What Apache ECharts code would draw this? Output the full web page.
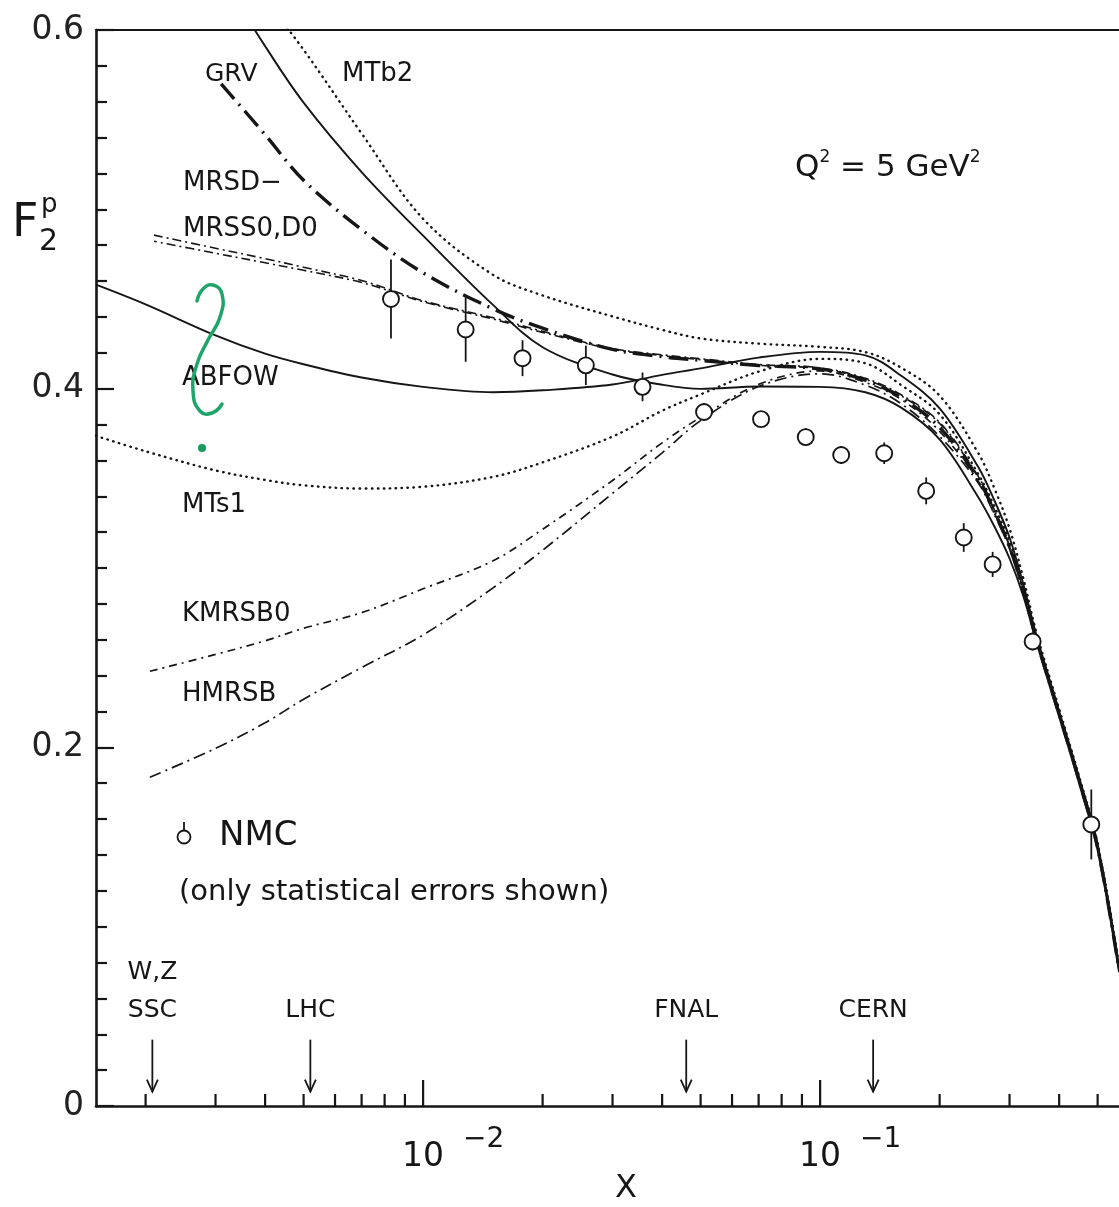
<!DOCTYPE html>
<html>
<head>
<meta charset="utf-8">
<script src="https://cdn.jsdelivr.net/npm/echarts@6/dist/echarts.min.js"></script>
<style>
  html, body { margin: 0; padding: 0; background: #ffffff; }
  #chart { width: 1119px; height: 1207px; }
</style>
</head>
<body>
<div id="chart"></div>
<script>
// Proton structure function F2 versus x at Q^2 = 5 GeV^2:
// parton-distribution predictions compared with NMC measurements.

// ---- NMC measurements (statistical errors only) ----
const nmcX   = [0.0083, 0.0128, 0.0178, 0.0257, 0.0357, 0.051, 0.071, 0.092, 0.113, 0.145, 0.185, 0.23, 0.272, 0.343, 0.482];
const nmcF2  = [0.450, 0.433, 0.417, 0.413, 0.401, 0.387, 0.383, 0.373, 0.363, 0.364, 0.343, 0.317, 0.302, 0.259, 0.157];
const nmcErr = [0.022, 0.018, 0.010, 0.011, 0.008, 0.005, 0.004, 0.005, 0.005, 0.006, 0.0075, 0.008, 0.007, 0.005, 0.0195];

// ---- model curves, [x, F2] ----
const grv = [[0.003,0.635],[0.004,0.591],[0.005,0.5595],[0.007,0.5208],[0.01,0.4853],[0.015,0.4467],[0.02,0.4231],
  [0.03,0.4079],[0.04,0.4022],[0.05,0.3999],[0.07,0.4012],[0.1,0.401],[0.13,0.398],[0.16,0.3894],[0.2,0.3717],
  [0.25,0.3396],[0.275,0.323],[0.3,0.3053],[0.325,0.2843],[0.35,0.2592],[0.4,0.2169],[0.45,0.1792],[0.5,0.1425],[0.566,0.0746]];
const mtb2 = [[0.004,0.617],[0.005,0.589],[0.007,0.5423],[0.01,0.4947],[0.015,0.4635],[0.02,0.452],[0.03,0.4403],
  [0.04,0.4328],[0.05,0.428],[0.07,0.4251],[0.1,0.4233],[0.13,0.4204],[0.16,0.4117],[0.2,0.3961],[0.25,0.3642],
  [0.275,0.3442],[0.3,0.322],[0.325,0.2942],[0.35,0.2647],[0.4,0.2214],[0.45,0.1831],[0.5,0.1464],[0.566,0.0785]];
const mrsdMinus = [[0.0031,0.570],[0.004,0.5416],[0.005,0.5162],[0.007,0.4887],[0.01,0.4646],[0.015,0.4445],
  [0.02,0.4337],[0.03,0.4219],[0.04,0.4178],[0.05,0.4158],[0.07,0.4129],[0.1,0.411],[0.13,0.4047],[0.16,0.395],
  [0.2,0.3784],[0.25,0.3497],[0.275,0.3312],[0.3,0.3118],[0.325,0.2874],[0.35,0.2606],[0.4,0.2185],[0.45,0.1808],[0.5,0.1441],[0.566,0.0762]];
const mrss0 = [[0.0021,0.4856],[0.003,0.4783],[0.004,0.4725],[0.005,0.4677],[0.007,0.4603],[0.01,0.449],
  [0.015,0.4395],[0.02,0.432],[0.03,0.4224],[0.04,0.4189],[0.05,0.4167],[0.07,0.4135],[0.1,0.4116],[0.13,0.4058],
  [0.16,0.3966],[0.2,0.3812],[0.25,0.3512],[0.275,0.3322],[0.3,0.3124],[0.325,0.2878],[0.35,0.2609],[0.4,0.2187],[0.45,0.181],[0.5,0.1443],[0.566,0.0764]];
const mrsd0 = [[0.0021,0.4822],[0.003,0.4755],[0.004,0.4702],[0.005,0.466],[0.007,0.4592],[0.01,0.4485],
  [0.015,0.4388],[0.02,0.4314],[0.03,0.422],[0.04,0.4184],[0.05,0.4162],[0.07,0.413],[0.1,0.4112],[0.13,0.4052],
  [0.16,0.396],[0.2,0.3806],[0.25,0.3506],[0.275,0.3318],[0.3,0.3121],[0.325,0.2876],[0.35,0.2608],[0.4,0.2186],[0.45,0.1809],[0.5,0.1442],[0.566,0.0763]];
const abfow = [[0.0015,0.458],[0.002,0.447],[0.003,0.4297],[0.004,0.4195],[0.005,0.4136],[0.007,0.4062],[0.01,0.401],
  [0.015,0.398],[0.02,0.3991],[0.03,0.4023],[0.04,0.4077],[0.05,0.4113],[0.07,0.4173],[0.1,0.4205],[0.13,0.4186],
  [0.16,0.4072],[0.2,0.389],[0.25,0.3564],[0.275,0.3375],[0.3,0.317],[0.325,0.2909],[0.35,0.2631],[0.4,0.2203],[0.45,0.1826],[0.5,0.1459],[0.566,0.078]];
const mts1 = [[0.0015,0.3737],[0.002,0.3651],[0.003,0.3544],[0.004,0.3491],[0.005,0.3461],[0.007,0.3443],[0.01,0.3453],
  [0.015,0.3508],[0.02,0.3589],[0.03,0.3733],[0.04,0.3877],[0.05,0.3968],[0.07,0.4095],[0.1,0.4166],[0.13,0.4142],
  [0.16,0.402],[0.2,0.3857],[0.25,0.3525],[0.275,0.3342],[0.3,0.3148],[0.325,0.2892],[0.35,0.262],[0.4,0.2195],[0.45,0.1818],[0.5,0.1451],[0.566,0.0772]];
const kmrsb0 = [[0.00205,0.2424],[0.003,0.2518],[0.004,0.2594],[0.005,0.2664],[0.007,0.2751],[0.01,0.2884],
  [0.015,0.304],[0.02,0.3216],[0.03,0.3488],[0.04,0.3698],[0.05,0.384],[0.07,0.4024],[0.1,0.4099],[0.13,0.4035],
  [0.16,0.394],[0.2,0.3762],[0.25,0.3485],[0.275,0.3304],[0.3,0.3112],[0.325,0.287],[0.35,0.2603],[0.4,0.2183],[0.45,0.1806],[0.5,0.1439],[0.566,0.076]];
const hmrsb = [[0.00205,0.1833],[0.003,0.1994],[0.004,0.2137],[0.005,0.2268],[0.007,0.2445],[0.01,0.2627],
  [0.015,0.2889],[0.02,0.3099],[0.03,0.3416],[0.04,0.3642],[0.05,0.3822],[0.07,0.4012],[0.1,0.4083],[0.13,0.402],
  [0.16,0.3916],[0.2,0.3734],[0.25,0.3475],[0.275,0.3296],[0.3,0.3106],[0.325,0.2866],[0.35,0.26],[0.4,0.2181],[0.45,0.1804],[0.5,0.1437],[0.566,0.0758]];

// ---- collider / fixed-target reach markers ----
const facilityNames = [['W,Z', 'SSC'], ['LHC'], ['FNAL'], ['CERN']];
const facilityX = [0.00208, 0.0052, 0.046, 0.136];

// ---- axes ----
const xMin = 0.0015, xMax = 0.566;
const xMinorTicks = [0.002,0.003,0.004,0.005,0.006,0.007,0.008,0.009,
                     0.02,0.03,0.04,0.05,0.06,0.07,0.08,0.09,
                     0.2,0.3,0.4,0.5];
const xMajorTicks = [0.01, 0.1];
const xMajorExponents = ['\u22122', '\u22121'];
const yTickLabels = { 0: '0', 0.2: '0.2', 0.4: '0.4', 0.6: '0.6' };

const INK = '#161616';
const FONT = 'DejaVu Sans';

const chart = echarts.init(document.getElementById('chart'), null, { renderer: 'canvas' });

function curve(name, data, lineStyle) {
  return {
    name, type: 'line', data, showSymbol: false, symbol: 'none',
    smooth: 0.35, clip: true, z: 3,
    lineStyle: Object.assign({ color: INK, width: 1.9 }, lineStyle)
  };
}

const series = [
  curve('GRV', grv, { type: 'solid' }),
  curve('ABFOW', abfow, { type: 'solid' }),
  curve('MTb2', mtb2, { type: [0.5, 5.5], cap: 'round', width: 2.4 }),
  curve('MTs1', mts1, { type: [0.5, 5.5], cap: 'round', width: 2.4 }),
  curve('MRSD-', mrsdMinus, { type: [20, 7, 2, 7], width: 3.4 }),
  curve('MRSS0', mrss0, { type: [9, 4, 2, 4], width: 1.6 }),
  curve('MRSD0', mrsd0, { type: [9, 4, 2, 4], width: 1.6, dashOffset: 6 }),
  curve('KMRSB0', kmrsb0, { type: [8, 5, 2, 5], width: 1.7 }),
  curve('HMRSB', hmrsb, { type: [12, 5, 2, 5], width: 1.7 }),
  // NMC error bars
  {
    name: 'NMC errors', type: 'custom', z: 4,
    data: nmcX.map((x, i) => [x, nmcF2[i] - nmcErr[i], nmcF2[i] + nmcErr[i]]),
    encode: { x: 0, y: [1, 2] },
    renderItem(params, api) {
      const lo = api.coord([api.value(0), api.value(1)]);
      const hi = api.coord([api.value(0), api.value(2)]);
      return { type: 'line', shape: { x1: lo[0], y1: lo[1], x2: hi[0], y2: hi[1] },
               style: { stroke: INK, lineWidth: 1.8 } };
    }
  },
  // NMC points
  {
    name: 'NMC', type: 'scatter', z: 5,
    data: nmcX.map((x, i) => [x, nmcF2[i]]),
    symbol: 'circle', symbolSize: 16,
    itemStyle: { color: '#ffffff', borderColor: INK, borderWidth: 1.9, opacity: 1 }
  },
  // minor ticks on the x axis
  {
    name: 'x minor ticks', type: 'custom', z: 6, silent: true,
    data: xMinorTicks.map(v => [v, 0]),
    encode: { x: 0, y: 1 },
    renderItem(params, api) {
      const p = api.coord([api.value(0), 0]);
      return { type: 'line', shape: { x1: p[0], y1: p[1], x2: p[0], y2: p[1] - 12 },
               style: { stroke: INK, lineWidth: 2.2 } };
    }
  },
  // decade ticks with power-of-ten labels
  {
    name: 'x major ticks', type: 'custom', z: 6, silent: true,
    data: xMajorTicks.map(v => [v, 0]),
    encode: { x: 0, y: 1 },
    renderItem(params, api) {
      const p = api.coord([api.value(0), 0]);
      return {
        type: 'group',
        children: [
          { type: 'line', shape: { x1: p[0], y1: p[1], x2: p[0], y2: p[1] - 26 },
            style: { stroke: INK, lineWidth: 2.2 } },
          { type: 'text', x: p[0], y: p[1] + 51,
            style: { text: '10', fill: INK, font: '33px "' + FONT + '"', align: 'center', verticalAlign: 'middle' } },
          { type: 'text', x: p[0] + 40, y: p[1] + 34,
            style: { text: xMajorExponents[params.dataIndex], fill: INK, font: '28px "' + FONT + '"', align: 'left', verticalAlign: 'middle' } }
        ]
      };
    }
  },
  // facility arrows
  {
    name: 'facilities', type: 'custom', z: 6, silent: true,
    data: facilityX.map(x => [x, 0.037, 0.008]),
    encode: { x: 0, y: [1, 2] },
    renderItem(params, api) {
      const x = api.value(0);
      const top = api.coord([x, api.value(1)]);
      const tip = api.coord([x, api.value(2)]);
      const labelAt = api.coord([x, 0.053]);
      const names = facilityNames[params.dataIndex];
      const children = [
        { type: 'line', shape: { x1: top[0], y1: top[1], x2: tip[0], y2: tip[1] },
          style: { stroke: INK, lineWidth: 1.8 } },
        { type: 'polyline', shape: { points: [[tip[0] - 5.5, tip[1] - 12], [tip[0], tip[1]], [tip[0] + 5.5, tip[1] - 12]] },
          style: { stroke: INK, lineWidth: 1.8, fill: null } }
      ];
      names.forEach((nm, j) => {
        children.push({ type: 'text', x: labelAt[0], y: labelAt[1] - (names.length - 1 - j) * 38,
          style: { text: nm, fill: INK, font: '25px "' + FONT + '"', align: 'center', verticalAlign: 'middle' } });
      });
      return { type: 'group', children };
    }
  }
];

function label(text, x, y, size) {
  return { type: 'text', x, y, z: 10,
    style: { text, fill: INK, font: size + 'px "' + FONT + '"', align: 'left', verticalAlign: 'middle' } };
}

const graphic = [
  // y-axis title F2^p
  label('F', 12, 224, 46),
  label('p', 41, 205, 26),
  label('2', 39, 242, 30),
  // curve labels
  label('GRV', 205, 74, 25),
  label('MTb2', 342, 74, 26),
  label('MRSD\u2212', 183, 183, 26),
  label('MRSS0,D0', 183, 229, 26),
  label('ABFOW', 182, 378, 26),
  label('MTs1', 182, 505, 26),
  label('KMRSB0', 182, 614, 26),
  label('HMRSB', 182, 694, 26),
  // NMC key
  { type: 'circle', shape: { cx: 184, cy: 837, r: 6.5 }, z: 10, style: { fill: '#fff', stroke: INK, lineWidth: 1.8 } },
  { type: 'line', shape: { x1: 184, y1: 822, x2: 184, y2: 830.5 }, z: 10, style: { stroke: INK, lineWidth: 1.8 } },
  label('NMC', 219, 836, 34),
  label('(only statistical errors shown)', 179, 892, 29),
  // kinematic condition
  { type: 'text', x: 795, y: 168, z: 10,
    style: { text: 'Q{s|2} = 5 GeV{s|2}', fill: INK, font: '31px "' + FONT + '"', align: 'left', verticalAlign: 'middle',
      rich: { s: { fontSize: 17, fontFamily: FONT, fill: INK, padding: [0, 0, 20, 0] } } } },
  // x-axis title
  { type: 'text', x: 626, y: 1189, z: 10,
    style: { text: 'X', fill: INK, font: '32px "' + FONT + '"', align: 'center', verticalAlign: 'middle' } },
  // green handwritten query mark
  { type: 'polyline', z: 12, shape: { smooth: 0.5, points: [[197,301],[203,289],[213,285],[222,294],[220,317],[208,340],[197,364],[193,391],[200,411],[212,413],[222,404]] },
    style: { stroke: '#1fa56a', lineWidth: 3.5, fill: null, lineCap: 'round' } },
  { type: 'circle', z: 12, shape: { cx: 202, cy: 448, r: 4 }, style: { fill: '#1b9a5e' } }
];

chart.setOption({
  animation: false,
  backgroundColor: '#ffffff',
  textStyle: { fontFamily: FONT },
  grid: { left: 96, right: 0, top: 30, bottom: 101, containLabel: false },
  xAxis: [
    { type: 'log', logBase: 10, min: xMin, max: xMax, position: 'bottom',
      axisLine: { show: true, onZero: false, lineStyle: { color: INK, width: 2.6 } },
      axisTick: { show: false }, minorTick: { show: false },
      axisLabel: { show: false }, splitLine: { show: false } },
    { type: 'log', logBase: 10, min: xMin, max: xMax, position: 'top',
      axisLine: { show: true, onZero: false, lineStyle: { color: INK, width: 2.2 } },
      axisTick: { show: false }, axisLabel: { show: false }, splitLine: { show: false } }
  ],
  yAxis: {
    type: 'value', min: 0, max: 0.6, interval: 0.2,
    axisLine: { show: true, lineStyle: { color: INK, width: 2.6 } },
    axisTick: { show: true, inside: true, length: 18, lineStyle: { color: INK, width: 2.2 } },
    minorTick: { show: true, splitNumber: 10, length: 11, lineStyle: { color: INK, width: 2.2 } },
    splitLine: { show: false },
    axisLabel: { margin: 12, fontSize: 33, color: '#222', fontFamily: FONT,
      formatter: v => yTickLabels[Math.round(v * 10) / 10] || '' }
  },
  series,
  graphic
});
</script>
</body>
</html>
